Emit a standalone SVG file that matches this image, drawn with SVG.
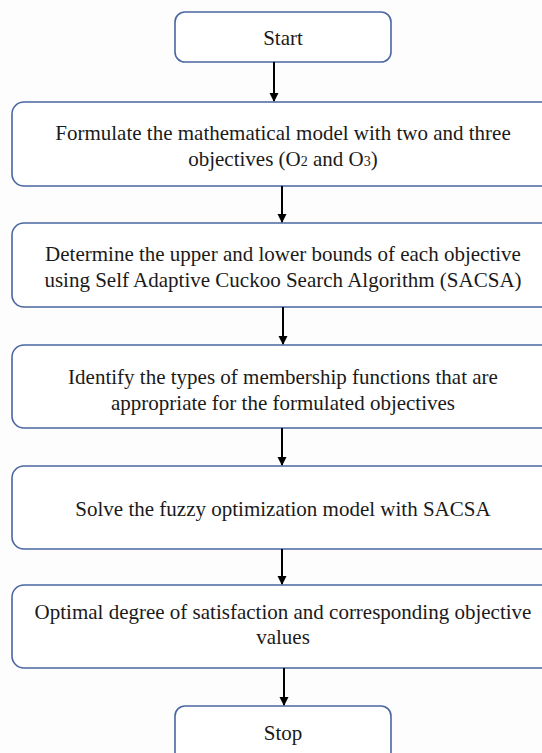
<svg xmlns="http://www.w3.org/2000/svg" width="542" height="753" viewBox="0 0 542 753">
<defs>
<style>
.box{fill:#ffffff;stroke:#4a67a1;stroke-width:1.6}
.t{font-size:21px;fill:#1a1a1a;text-anchor:middle}
.c{stroke:#000;stroke-width:2;fill:none;marker-end:url(#ah)}
</style>
<marker id="ah" markerWidth="10" markerHeight="10" refX="8" refY="5" orient="auto" markerUnits="userSpaceOnUse">
<path d="M0,0.5 L9,5 L0,9.5 Z" fill="#000"/>
</marker>
</defs>
<rect width="542" height="753" fill="#fdfdfe"/>
<g font-family="'Liberation Serif', 'DejaVu Serif', serif">
<g id="start"><rect class="box" x="175" y="12" width="216" height="50" rx="10"/><text class="t" x="283" y="45">Start</text></g>
<g id="formulate"><rect class="box" x="12" y="102" width="560" height="84" rx="12"/><text class="t" x="283" y="140">Formulate the mathematical model with two and three</text><text class="t" x="283" y="166">objectives (O<tspan font-size="14">2</tspan> and O<tspan font-size="14">3</tspan>)</text></g>
<g id="bounds"><rect class="box" x="12" y="223" width="560" height="84" rx="12"/><text class="t" x="283" y="261">Determine the upper and lower bounds of each objective</text><text class="t" x="283" y="287">using Self Adaptive Cuckoo Search Algorithm (SACSA)</text></g>
<g id="identify"><rect class="box" x="12" y="345" width="560" height="83" rx="12"/><text class="t" x="283" y="384">Identify the types of membership functions that are</text><text class="t" x="283" y="410">appropriate for the formulated objectives</text></g>
<g id="solve"><rect class="box" x="12" y="466" width="560" height="83" rx="12"/><text class="t" x="283" y="516">Solve the fuzzy optimization model with SACSA</text></g>
<g id="optimal"><rect class="box" x="12" y="585" width="560" height="83" rx="12"/><text class="t" x="283" y="619">Optimal degree of satisfaction and corresponding objective</text><text class="t" x="283" y="644">values</text></g>
<g id="stop"><rect class="box" x="175" y="706" width="216" height="60" rx="10"/><text class="t" x="283" y="740">Stop</text></g>
</g>
<g id="connectors">
<line class="c" x1="274" y1="62" x2="274" y2="101"/>
<line class="c" x1="282" y1="186" x2="282" y2="222"/>
<line class="c" x1="283" y1="307" x2="283" y2="344"/>
<line class="c" x1="282" y1="428" x2="282" y2="465"/>
<line class="c" x1="282" y1="549" x2="282" y2="584"/>
<line class="c" x1="284" y1="668" x2="284" y2="705"/>
</g>
</svg>
